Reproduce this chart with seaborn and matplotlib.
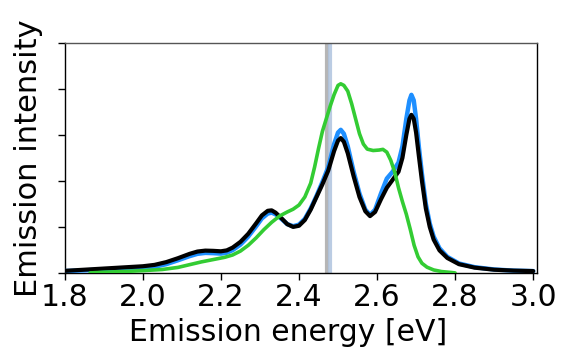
import matplotlib
matplotlib.use("Agg")
import matplotlib.pyplot as plt
import seaborn as sns
import pandas as pd

# ---- data ----
black_x = [1.80, 1.85, 1.90, 1.95, 2.00, 2.03, 2.06, 2.09, 2.12, 2.14, 2.16, 2.18, 2.20, 2.215,
           2.23, 2.25, 2.27, 2.29, 2.305, 2.32, 2.33, 2.34, 2.355, 2.37, 2.385, 2.40, 2.415, 2.43,
           2.445, 2.46, 2.475, 2.49, 2.50, 2.507, 2.515, 2.525, 2.54, 2.555, 2.57, 2.582, 2.595,
           2.61, 2.625, 2.64, 2.655, 2.665, 2.675, 2.683, 2.688, 2.694, 2.70, 2.707, 2.715, 2.725,
           2.735, 2.745, 2.76, 2.78, 2.81, 2.85, 2.90, 2.95, 3.00]
black_y = [0.009, 0.014, 0.019, 0.024, 0.029, 0.035, 0.047, 0.064, 0.083, 0.093, 0.097, 0.096, 0.094, 0.098,
           0.110, 0.135, 0.170, 0.215, 0.250, 0.270, 0.272, 0.262, 0.238, 0.212, 0.200, 0.205, 0.230, 0.275,
           0.330, 0.385, 0.445, 0.530, 0.575, 0.586, 0.570, 0.520, 0.420, 0.330, 0.268, 0.247, 0.265,
           0.320, 0.370, 0.405, 0.440, 0.500, 0.600, 0.670, 0.687, 0.670, 0.610, 0.510, 0.400, 0.280,
           0.200, 0.145, 0.098, 0.065, 0.038, 0.023, 0.014, 0.010, 0.008]

blue_x = black_x
blue_y = [0.008, 0.011, 0.015, 0.019, 0.022, 0.027, 0.038, 0.055, 0.073, 0.083, 0.087, 0.086, 0.084, 0.088,
          0.099, 0.123, 0.158, 0.202, 0.237, 0.258, 0.262, 0.255, 0.235, 0.212, 0.203, 0.210, 0.235, 0.280,
          0.335, 0.395, 0.460, 0.560, 0.610, 0.622, 0.605, 0.550, 0.440, 0.345, 0.275, 0.252, 0.275,
          0.345, 0.410, 0.440, 0.480, 0.550, 0.670, 0.750, 0.774, 0.750, 0.670, 0.550, 0.430, 0.300,
          0.215, 0.158, 0.107, 0.070, 0.041, 0.025, 0.015, 0.010, 0.008]

green_x = [1.865, 1.90, 1.95, 2.00, 2.05, 2.09, 2.12, 2.15, 2.18, 2.21, 2.23, 2.25, 2.27, 2.29,
           2.31, 2.33, 2.35, 2.37, 2.385, 2.40, 2.415, 2.43, 2.44, 2.45, 2.46, 2.47, 2.48, 2.49,
           2.50, 2.507, 2.515, 2.525, 2.535, 2.545, 2.555, 2.565, 2.575, 2.59, 2.605, 2.615, 2.625,
           2.635, 2.645, 2.655, 2.665, 2.675, 2.685, 2.695, 2.705, 2.715, 2.728, 2.745, 2.765, 2.79, 2.80]
green_y = [0.0, 0.003, 0.006, 0.010, 0.015, 0.024, 0.036, 0.048, 0.058, 0.068, 0.078, 0.095, 0.120, 0.152,
           0.188, 0.220, 0.247, 0.265, 0.277, 0.295, 0.330, 0.390, 0.460, 0.540, 0.615, 0.670, 0.725, 0.775,
           0.815, 0.822, 0.815, 0.790, 0.735, 0.670, 0.605, 0.560, 0.538, 0.532, 0.534, 0.537, 0.525,
           0.490, 0.440, 0.370, 0.310, 0.255, 0.190, 0.120, 0.070, 0.042, 0.025, 0.013, 0.006, 0.002, 0.0]

vlines = [2.472, 2.480]
vline_colors = ["#a9a9a9", "#b0c4de"]

x_ticks = [1.8, 2.0, 2.2, 2.4, 2.6, 2.8, 3.0]
y_ticks = [0.0, 0.2, 0.4, 0.6, 0.8, 1.0]

sns.set_style("ticks")
plt.rcParams["font.family"] = ["DejaVu Sans"]
plt.rcParams["text.color"] = "black"
plt.rcParams["axes.labelcolor"] = "black"
plt.rcParams["xtick.color"] = "black"
plt.rcParams["ytick.color"] = "black"

fig = plt.figure(figsize=(5.63, 3.54), dpi=100)
ax = fig.add_axes([0.115, 0.229, 0.839, 0.650])

for xv, c in zip(vlines, vline_colors):
    ax.axvline(xv, color=c, lw=3, alpha=0.85, zorder=1)

df_b = pd.DataFrame({"x": blue_x, "y": blue_y})
df_k = pd.DataFrame({"x": black_x, "y": black_y})
df_g = pd.DataFrame({"x": green_x, "y": green_y})
sns.lineplot(data=df_b, x="x", y="y", color="#1e8fff", lw=3.2, ax=ax, zorder=3)
sns.lineplot(data=df_k, x="x", y="y", color="black", lw=3, ax=ax, zorder=4)
sns.lineplot(data=df_g, x="x", y="y", color="#33cc33", lw=2.6, ax=ax, zorder=5)

ax.set_xlim(1.8, 3.01)
ax.set_ylim(0, 1.0)
ax.set_xticks(x_ticks)
ax.set_xticklabels([f"{t:.1f}" for t in x_ticks])
ax.set_yticks(y_ticks)
ax.set_yticklabels([])
ax.tick_params(axis="both", labelsize=21.5, length=5, width=1, pad=2.5)
ax.set_xlabel("Emission energy [eV]", fontsize=21.5)
ax.xaxis.set_label_coords(0.472, -0.195)
ax.set_ylabel("Emission intensity", fontsize=22)
ax.yaxis.set_label_coords(-0.046, 0.5)
for s in ax.spines.values():
    s.set_color("black")
    s.set_linewidth(1)
ax.spines["top"].set_color("#555555")

fig.savefig("out.png", dpi=100)
